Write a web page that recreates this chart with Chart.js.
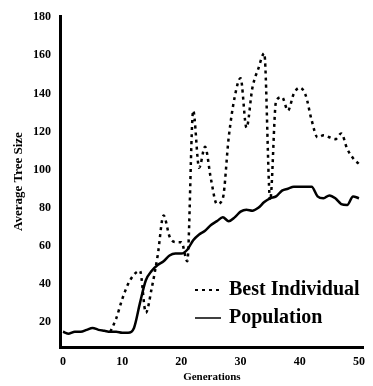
<!DOCTYPE html>
<html>
<head>
<meta charset="utf-8">
<script src="https://cdn.jsdelivr.net/npm/chart.js@4.4.1/dist/chart.umd.min.js"></script>
<style>
  html, body { margin: 0; padding: 0; background: #fff; }
  #wrap { position: relative; width: 373px; height: 386px; }
</style>
</head>
<body>
<div id="wrap"><canvas id="treeChart" width="373" height="386"></canvas></div>
<script>
var generations = [];
for (var g = 0; g <= 50; g++) generations.push(g);

var population = [15, 14, 15, 15, 16, 17, 16, 15.5, 15, 15,
                  14.5, 14.5, 17, 30, 42, 47, 50, 52, 55, 56,
                  56, 58, 63, 66, 68, 71, 73, 75, 73, 75,
                  78, 79, 78.5, 80, 83, 85, 86, 89, 90, 91,
                  91, 91, 91, 86, 85, 86.5, 85, 82, 81.5, 86, 85];

var bestIndividual = [null, null, null, null, null, null, null, null, 15, 22,
                      32, 40, 45, 47, 25, 38, 55, 76, 65, 62,
                      62, 52, 131, 101, 112, 95, 82, 85, 117, 138,
                      148, 122, 143, 153, 161, 84, 136, 138, 131, 140,
                      143, 139, 126, 117, 118, 117, 116, 119, 111, 106, 103];

var xTicks = [0, 10, 20, 30, 40, 50];
var yTicks = [20, 40, 60, 80, 100, 120, 140, 160, 180];

var serif = "'Liberation Serif', 'DejaVu Serif', serif";

function points(values) {
    return generations.map(function (g, i) { return { x: g, y: values[i] }; });
}

// legend drawn inside the plot, lower right
var innerLegend = {
    id: "innerLegend",
    afterDatasetsDraw: function (chart) {
        var ctx = chart.ctx;
        var rows = [chart.data.datasets[0], chart.data.datasets[1]];
        ctx.save();
        ctx.font = "bold 20px " + serif;
        ctx.fillStyle = "#000";
        ctx.textBaseline = "middle";
        rows.forEach(function (ds, i) {
            var y = 290 + i * 28;
            ctx.beginPath();
            ctx.lineWidth = ds.borderDash.length ? 2 : 1.5;
            ctx.setLineDash(ds.borderDash);
            ctx.strokeStyle = "#000";
            ctx.moveTo(195, y);
            ctx.lineTo(221, y);
            ctx.stroke();
            ctx.setLineDash([]);
            ctx.fillText(ds.label, 229, y);
        });
        ctx.restore();
    }
};

new Chart(document.getElementById("treeChart"), {
    type: "line",
    data: {
        datasets: [{
            label: "Best Individual",
            data: points(bestIndividual),
            borderColor: "#000",
            borderWidth: 2.5,
            borderDash: [3, 4],
            pointRadius: 0,
            cubicInterpolationMode: "monotone",
            fill: false
        }, {
            label: "Population",
            data: points(population),
            borderColor: "#000",
            borderWidth: 2.5,
            borderDash: [],
            pointRadius: 0,
            cubicInterpolationMode: "monotone",
            fill: false
        }]
    },
    options: {
        responsive: false,
        animation: false,
        layout: { padding: { top: 15, right: 1 } },
        plugins: {
            legend: { display: false },
            tooltip: { enabled: false }
        },
        scales: {
            x: {
                type: "linear",
                min: -0.5,
                max: 50.8,
                afterBuildTicks: function (scale) {
                    scale.ticks = xTicks.map(function (v) { return { value: v }; });
                },
                afterFit: function (scale) { scale.height = 39; },
                grid: { display: true, drawOnChartArea: false, drawTicks: false },
                border: { color: "#000", width: 3 },
                ticks: {
                    color: "#000",
                    padding: 8,
                    maxRotation: 0,
                    font: { family: serif, size: 12, weight: "bold" }
                },
                title: {
                    display: true,
                    text: "Generations",
                    color: "#000",
                    padding: { top: 0, bottom: 2 },
                    font: { family: serif, size: 11, weight: "bold" }
                }
            },
            y: {
                min: 7,
                max: 180.5,
                afterBuildTicks: function (scale) {
                    scale.ticks = yTicks.map(function (v) { return { value: v }; });
                },
                afterFit: function (scale) { scale.width = 60; },
                grid: { display: true, drawOnChartArea: false, drawTicks: false },
                border: { color: "#000", width: 3 },
                ticks: {
                    color: "#000",
                    padding: 9,
                    font: { family: serif, size: 12, weight: "bold" }
                },
                title: {
                    display: true,
                    text: "Average Tree Size",
                    color: "#000",
                    padding: { top: 11, bottom: 0 },
                    font: { family: serif, size: 13, weight: "bold" }
                }
            }
        }
    },
    plugins: [innerLegend]
});
</script>
</body>
</html>
